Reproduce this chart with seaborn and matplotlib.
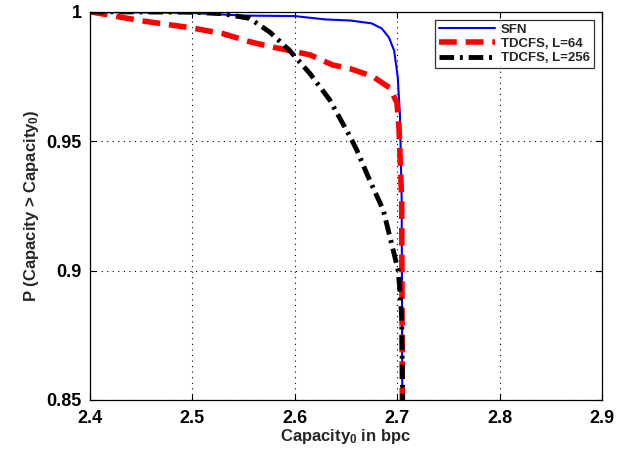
import pandas as pd
import matplotlib
matplotlib.use("Agg")
import matplotlib.pyplot as plt
import seaborn as sns

sns.set_style("white")
plt.rcParams['font.family'] = ['Liberation Sans', 'DejaVu Sans']
plt.rcParams['font.weight'] = 'bold'
plt.rcParams['mathtext.fontset'] = 'custom'
plt.rcParams['mathtext.rm'] = 'Liberation Sans:bold'
plt.rcParams['mathtext.default'] = 'rm'

# SFN curve
sfn_x = [2.40, 2.50, 2.55, 2.60, 2.63, 2.654, 2.675, 2.685, 2.692, 2.697, 2.7005, 2.7027, 2.7044, 2.7050]
sfn_y = [0.9999, 0.9995, 0.9985, 0.9983, 0.997, 0.9966, 0.9955, 0.9935, 0.990, 0.985, 0.975, 0.960, 0.927, 0.85]

# TDCFS, L=64
l64_x = [2.40, 2.45, 2.50, 2.53, 2.556, 2.576, 2.595, 2.615, 2.637, 2.654, 2.676, 2.693, 2.6998, 2.7018, 2.7044, 2.7050]
l64_y = [1.0, 0.9965, 0.9937, 0.9915, 0.9884, 0.9865, 0.985, 0.9833, 0.9794, 0.978, 0.975, 0.9705, 0.9647, 0.955, 0.927, 0.85]

# TDCFS, L=256
l256_x = [2.40, 2.50, 2.53, 2.556, 2.576, 2.595, 2.615, 2.634, 2.654, 2.6605, 2.673, 2.6864,
          2.696, 2.701, 2.7027, 2.7044, 2.7054]
l256_y = [1.0, 0.9998, 0.9992, 0.9974, 0.992, 0.985, 0.976, 0.966, 0.9517, 0.9466, 0.935, 0.9234,
          0.908, 0.90, 0.892, 0.882, 0.85]

labels = ["SFN", "TDCFS, L=64", "TDCFS, L=256"]

fig = plt.figure(figsize=(6.32, 4.55), dpi=100)
ax = fig.add_axes([0.1424, 0.1209, 0.8101, 0.8534])

sns.lineplot(x=sfn_x, y=sfn_y, ax=ax, sort=False, color="#0000ff", linewidth=1.5, label=labels[0])
sns.lineplot(x=l64_x, y=l64_y, ax=ax, sort=False, color="#ff0000", linewidth=4, label=labels[1],
             linestyle=(0, (3.2, 1.6)))
sns.lineplot(x=l256_x, y=l256_y, ax=ax, sort=False, color="black", linewidth=3.5, label=labels[2],
             linestyle=(0, (3, 1.2, 0.6, 1.2)))

ax.set_xlim(2.4, 2.9)
ax.set_ylim(0.85, 1.0)
ax.set_xticks([2.4, 2.5, 2.6, 2.7, 2.8, 2.9])
ax.set_yticks([0.85, 0.9, 0.95, 1.0])
ax.set_yticklabels(["0.85", "0.9", "0.95", "1"])
ax.grid(True, color="black", linestyle=(0, (1, 4)), linewidth=0.8)
ax.tick_params(direction="in", length=4, labelsize=13, colors="black", width=0.8,
               top=True, right=True, left=True, bottom=True)
ax.tick_params(axis="x", pad=7)
ax.tick_params(axis="y", pad=6)
for s in ax.spines.values():
    s.set_color("black")
    s.set_linewidth(0.9)

ax.set_xlabel("Capacity$_0$ in bpc", fontsize=12, fontweight="bold", labelpad=0)
ax.set_ylabel("P (Capacity > Capacity$_0$)", fontsize=12, fontweight="bold", labelpad=4)

leg = ax.legend(loc="upper right", fontsize=9.5, frameon=True, fancybox=False,
                borderaxespad=0.6, handlelength=4.2, borderpad=0.3, labelspacing=0.15,
                handletextpad=0.5)
leg.get_frame().set_edgecolor("black")
leg.get_frame().set_linewidth(0.9)

fig.savefig("out.png", dpi=100)
